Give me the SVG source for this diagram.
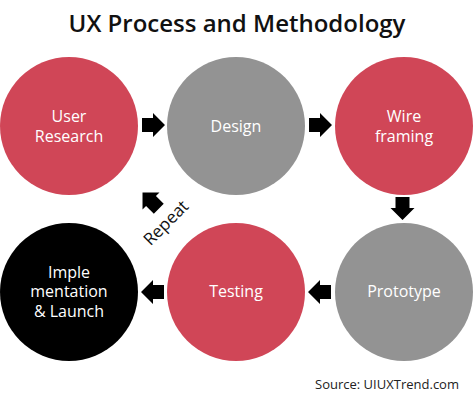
<svg xmlns="http://www.w3.org/2000/svg" width="474" height="401" viewBox="0 0 474 401">
<style>
.red{fill:#d04657}
.gray{fill:#939393}
.blk{fill:#000}
.lbl{font-family:"Open Sans","Noto Sans",sans-serif;font-size:16px;fill:#fff;text-anchor:middle}
.title{font-family:"Open Sans","Noto Sans",sans-serif;font-size:24px;font-weight:600;fill:#111;text-anchor:middle}
.src{font-family:"Open Sans","Noto Sans",sans-serif;font-size:13.5px;fill:#222}
.rep{font-family:"Open Sans","Noto Sans",sans-serif;font-size:17px;fill:#111;text-anchor:middle}
</style>
<defs>
<path id="arr" d="M-11,-7 H0 V-12 L12,0 L0,12 V7 H-11 Z" fill="#000"/>
</defs>
<rect width="474" height="401" fill="#fff"/>
<text class="title" x="237" y="32">UX Process and Methodology</text>
<g id="n-user-research"><circle class="red" cx="69" cy="126" r="69"/><text class="lbl" x="69" y="122">User</text><text class="lbl" x="69" y="142">Research</text></g>
<g id="n-design"><circle class="gray" cx="236" cy="126" r="69"/><text class="lbl" x="236" y="132">Design</text></g>
<g id="n-wireframing"><circle class="red" cx="404" cy="126" r="69"/><text class="lbl" x="404" y="122">Wire</text><text class="lbl" x="404" y="142">framing</text></g>
<g id="n-prototype"><circle class="gray" cx="404" cy="292" r="69"/><text class="lbl" x="404" y="297">Prototype</text></g>
<g id="n-testing"><circle class="red" cx="236" cy="292" r="69"/><text class="lbl" x="236" y="297">Testing</text></g>
<g id="n-implementation"><circle class="blk" cx="69" cy="292" r="69"/><text class="lbl" x="69" y="277.5">Imple</text><text class="lbl" x="69" y="297">mentation</text><text class="lbl" x="69" y="317">&amp; Launch</text></g>
<g id="connectors">
<use href="#arr" transform="translate(153,125)"/>
<use href="#arr" transform="translate(320,125)"/>
<use href="#arr" transform="translate(402.5,208) rotate(90)"/>
<use href="#arr" transform="translate(320,292) rotate(180)"/>
<use href="#arr" transform="translate(153,292) rotate(180)"/>
<use href="#arr" transform="translate(151,201) rotate(225)"/>
<text class="rep" transform="translate(170,227) rotate(-45)">Repeat</text>
</g>
<text class="src" x="315" y="389" textLength="144" lengthAdjust="spacingAndGlyphs">Source: UIUXTrend.com</text>
</svg>
